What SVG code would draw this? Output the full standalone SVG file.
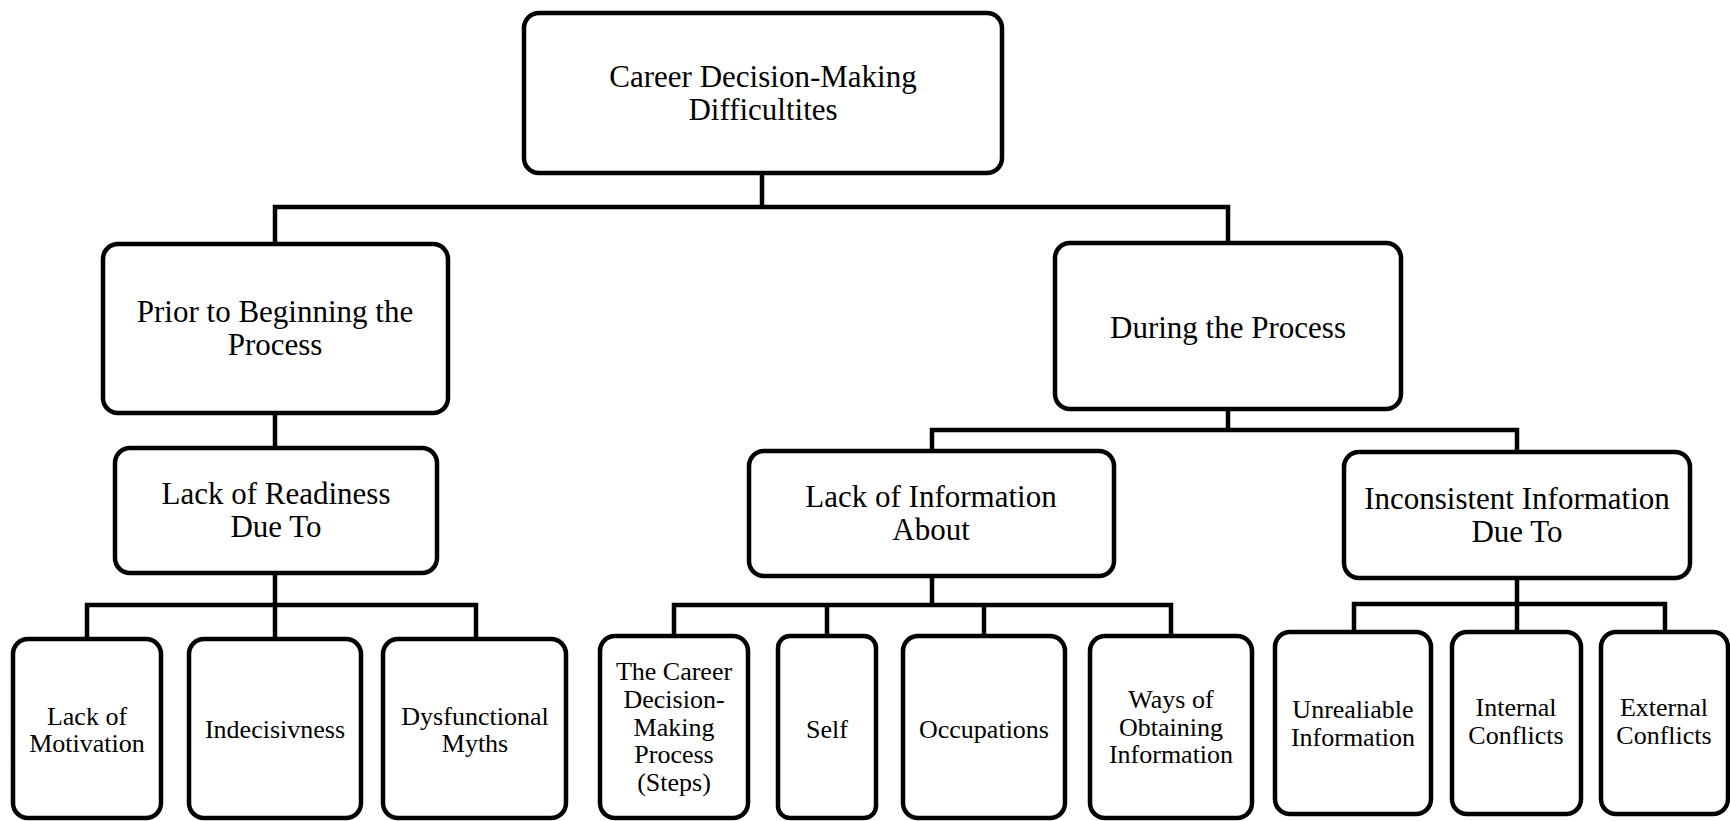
<svg xmlns="http://www.w3.org/2000/svg" width="1730" height="821" viewBox="0 0 1730 821">
<style>
.box{fill:#fff;stroke:#000;stroke-width:4.5}
.c{fill:none;stroke:#000;stroke-width:4.5;stroke-linecap:square}
text{font-family:"Liberation Serif","Times New Roman",serif;fill:#000;text-anchor:middle}
.l{font-size:31px}
.s{font-size:26px}
</style>
<rect width="1730" height="821" fill="#fff"/>
<g id="connectors">
<path class="c" d="M762 173V207M275 207H1228M275 207V244M1228 207V243"/>
<path class="c" d="M275 413V448"/>
<path class="c" d="M275 573V605M87 605H476M87 605V639M275 605V639M476 605V639"/>
<path class="c" d="M1228 409V430M932 430H1517M932 430V451M1517 430V452"/>
<path class="c" d="M932 576V605M674 605H1171M674 605V636M827 605V636M984 605V636M1171 605V636"/>
<path class="c" d="M1517 578V604M1354 604H1665M1354 604V632M1517 604V632M1665 604V632"/>
</g>
<g id="root"><rect class="box" x="524" y="13" width="478" height="160" rx="15"/>
<text class="l" x="763" y="87">Career Decision-Making</text><text class="l" x="763" y="120">Difficultites</text></g>
<g id="prior"><rect class="box" x="103" y="244" width="345" height="169" rx="15"/>
<text class="l" x="275" y="322">Prior to Beginning the</text><text class="l" x="275" y="355">Process</text></g>
<g id="during"><rect class="box" x="1055" y="243" width="346" height="166" rx="15"/>
<text class="l" x="1228" y="338">During the Process</text></g>
<g id="readiness"><rect class="box" x="115" y="448" width="322" height="125" rx="15"/>
<text class="l" x="276" y="504">Lack of Readiness</text><text class="l" x="276" y="537">Due To</text></g>
<g id="lackinfo"><rect class="box" x="749" y="451" width="365" height="125" rx="15"/>
<text class="l" x="931" y="507">Lack of Information</text><text class="l" x="931" y="540">About</text></g>
<g id="inconsistent"><rect class="box" x="1344" y="452" width="346" height="126" rx="15"/>
<text class="l" x="1517" y="509">Inconsistent Information</text><text class="l" x="1517" y="542">Due To</text></g>
<g id="motivation"><rect class="box" x="13" y="639" width="148" height="179" rx="15"/>
<text class="s" x="87" y="725">Lack of</text><text class="s" x="87" y="752">Motivation</text></g>
<g id="indecisiveness"><rect class="box" x="189" y="639" width="172" height="179" rx="15"/>
<text class="s" x="275" y="738">Indecisivness</text></g>
<g id="myths"><rect class="box" x="383" y="639" width="183" height="179" rx="15"/>
<text class="s" x="475" y="725">Dysfunctional</text><text class="s" x="475" y="752">Myths</text></g>
<g id="process"><rect class="box" x="600" y="636" width="148" height="182" rx="15"/>
<text class="s" x="674" y="680">The Career</text><text class="s" x="674" y="708">Decision-</text><text class="s" x="674" y="736">Making</text><text class="s" x="674" y="763">Process</text><text class="s" x="674" y="791">(Steps)</text></g>
<g id="self"><rect class="box" x="778" y="636" width="98" height="182" rx="12"/>
<text class="s" x="827" y="738">Self</text></g>
<g id="occupations"><rect class="box" x="903" y="636" width="162" height="182" rx="15"/>
<text class="s" x="984" y="738">Occupations</text></g>
<g id="ways"><rect class="box" x="1090" y="636" width="162" height="182" rx="15"/>
<text class="s" x="1171" y="708">Ways of</text><text class="s" x="1171" y="736">Obtaining</text><text class="s" x="1171" y="763">Information</text></g>
<g id="unreliable"><rect class="box" x="1275" y="632" width="156" height="182" rx="15"/>
<text class="s" x="1353" y="718">Unrealiable</text><text class="s" x="1353" y="746">Information</text></g>
<g id="internal"><rect class="box" x="1452" y="632" width="129" height="182" rx="15"/>
<text class="s" x="1516" y="716">Internal</text><text class="s" x="1516" y="744">Conflicts</text></g>
<g id="external"><rect class="box" x="1601" y="632" width="127" height="182" rx="15"/>
<text class="s" x="1664" y="716">External</text><text class="s" x="1664" y="744">Conflicts</text></g>
</svg>
